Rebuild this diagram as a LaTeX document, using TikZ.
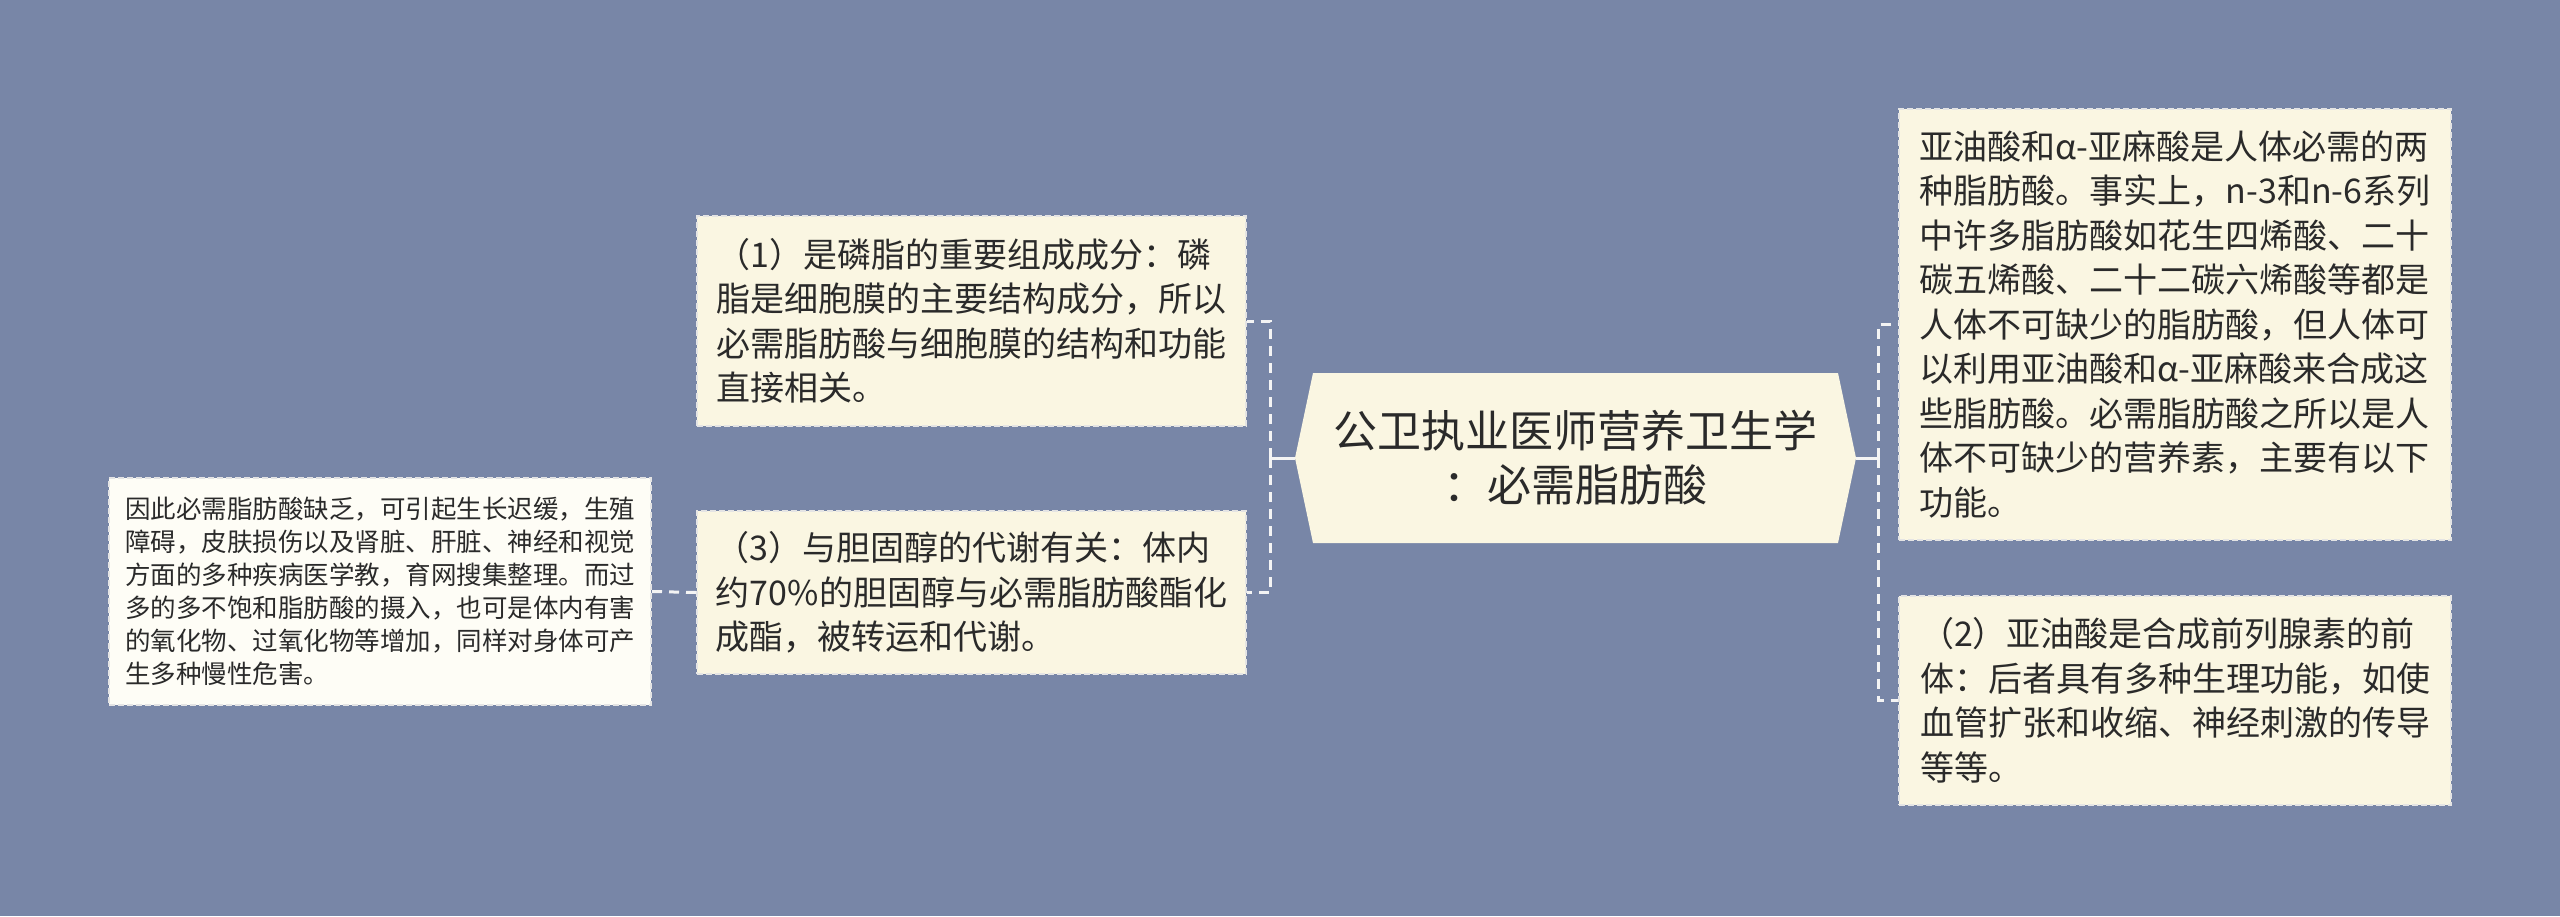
\documentclass[tikz,border=0pt]{standalone}
\usepackage{fontspec}
\setmainfont{Noto Sans CJK SC}
\definecolor{bg}{HTML}{7886A7}
\definecolor{boxfill}{HTML}{FAF6E2}
\definecolor{boxfilltwo}{HTML}{FEFDF6}
\definecolor{txt}{HTML}{2A2A2A}
\definecolor{linec}{HTML}{F4F4F4}
\definecolor{bord}{HTML}{E4E4E4}
\begin{document}
\begin{tikzpicture}[x=1pt,y=-1pt,
  card/.style={draw=bord, line width=2pt, dash pattern=on 6pt off 3pt, fill=boxfill, text=txt,
    align=left, inner sep=0pt, font=\fontsize{34}{44.5}\selectfont},
  smallcard/.style={card, fill=boxfilltwo, font=\fontsize{25.5}{33}\selectfont},
  link/.style={draw=linec, line width=3pt},
  dashlink/.style={link, dash pattern=on 10pt off 7pt},
  centertext/.style={text=txt, align=center, inner sep=0pt, font=\fontsize{44}{54}\selectfont}]
\useasboundingbox (0,0) rectangle (2560,916);
\fill[bg] (0,0) rectangle (2560,916);

% central hexagon
\coordinate (cW) at (1295,458);
\coordinate (cNW) at (1313,373);
\coordinate (cNE) at (1838,373);
\coordinate (cE) at (1856,458);
\coordinate (cSE) at (1838,543);
\coordinate (cSW) at (1313,543);
\fill[boxfill] (cW) -- (cNW) -- (cNE) -- (cE) -- (cSE) -- (cSW) -- cycle;
\node[centertext] (c) at (1575.5,458) {公卫执业医师营养卫生学\\：必需脂肪酸};

% right boxes
\node[card, minimum width=552, minimum height=431] (R1) at (2175,324.5) {亚油酸和α-亚麻酸是人体必需的两\\种脂肪酸。事实上，n-3和n-6系列\\中许多脂肪酸如花生四烯酸、二十\\碳五烯酸、二十二碳六烯酸等都是\\人体不可缺少的脂肪酸，但人体可\\以利用亚油酸和α-亚麻酸来合成这\\些脂肪酸。必需脂肪酸之所以是人\\体不可缺少的营养素，主要有以下\\功能。};
\node[card, minimum width=552, minimum height=209] (R2) at (2175,700.5) {（2）亚油酸是合成前列腺素的前\\体：后者具有多种生理功能，如使\\血管扩张和收缩、神经刺激的传导\\等等。};

% left boxes
\node[card, minimum width=549, minimum height=210] (L1) at (971.5,321) {（1）是磷脂的重要组成成分：磷\\脂是细胞膜的主要结构成分，所以\\必需脂肪酸与细胞膜的结构和功能\\直接相关。};
\node[card, minimum width=549, minimum height=163] (L3) at (971.5,592.5) {（3）与胆固醇的代谢有关：体内\\约70\%的胆固醇与必需脂肪酸酯化\\成酯，被转运和代谢。};
\node[smallcard, minimum width=542, minimum height=227] (FL) at (380,591.5) {因此必需脂肪酸缺乏，可引起生长迟缓，生殖\\障碍，皮肤损伤以及肾脏、肝脏、神经和视觉\\方面的多种疾病医学教，育网搜集整理。而过\\多的多不饱和脂肪酸的摄入，也可是体内有害\\的氧化物、过氧化物等增加，同样对身体可产\\生多种慢性危害。};

% connectors
\coordinate (jL) at (1270,458);
\coordinate (jR) at (1878,458);
\draw[link] (cW) -- (jL);
\draw[dashlink] (jL) |- (L1.east);
\draw[dashlink] (jL) |- (L3.east);
\draw[link] (cE) -- (jR);
\draw[dashlink] (jR) |- (R1.west);
\draw[dashlink] (jR) |- (R2.west);
\draw[dashlink] (L3.west) -- (FL.east);
\end{tikzpicture}
\end{document}
